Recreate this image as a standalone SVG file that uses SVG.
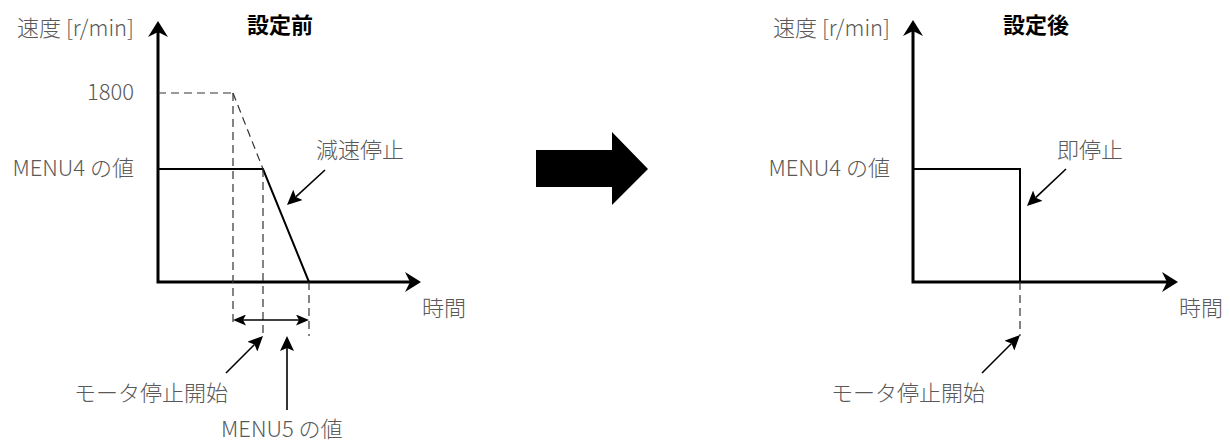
<svg xmlns="http://www.w3.org/2000/svg" width="1230" height="441" viewBox="0 0 1230 441">
<style>
  .t { font-family: "Noto Sans CJK JP", "Noto Sans", sans-serif; font-size: 22px; font-weight: 300; fill: #595959; }
  .title { font-family: "Noto Sans CJK JP", "Noto Sans", sans-serif; font-size: 22px; font-weight: bold; fill: #000; }
  .axis { fill: none; stroke: #000; stroke-width: 3; stroke-linejoin: miter; marker-start: url(#ah); marker-end: url(#ah); }
  .speed { fill: none; stroke: #000; stroke-width: 2; stroke-linejoin: miter; }
  .dash { fill: none; stroke: #333; stroke-width: 1.2; stroke-dasharray: 8 5; }
  .ptr { fill: none; stroke: #000; stroke-width: 1.6; marker-end: url(#sh); }
  .dbl { fill: none; stroke: #000; stroke-width: 1.6; marker-start: url(#dh); marker-end: url(#dh); }
</style>
<defs>
  <marker id="ah" viewBox="0 0 16 20" markerWidth="16" markerHeight="20" refX="5" refY="10" markerUnits="userSpaceOnUse" orient="auto-start-reverse">
    <path d="M0,0 L16,10 L0,20 L5,10 z" fill="#000"/>
  </marker>
  <marker id="sh" viewBox="0 0 15 14" markerWidth="15" markerHeight="14" refX="3" refY="7" markerUnits="userSpaceOnUse" orient="auto">
    <path d="M0,0 L15,7 L0,14 L3,7 z" fill="#000"/>
  </marker>
  <marker id="dh" viewBox="0 0 13 11" markerWidth="13" markerHeight="11" refX="3" refY="5.5" markerUnits="userSpaceOnUse" orient="auto-start-reverse">
    <path d="M0,0 L13,5.5 L0,11 L3,5.5 z" fill="#000"/>
  </marker>
</defs>

<g id="connectors">
  <!-- left chart -->
  <path class="axis" d="M158,32 L158,282 L410,282"/>
  <polyline class="speed" points="158,169 263,169 309,282"/>
  <line class="dash" x1="158" y1="93" x2="233" y2="93"/>
  <line class="dash" x1="233" y1="93" x2="263" y2="169"/>
  <line class="dash" x1="233" y1="93" x2="233" y2="327"/>
  <line class="dash" x1="263" y1="169" x2="263" y2="336"/>
  <line class="dash" x1="309" y1="282" x2="309" y2="336"/>
  <line class="dbl" x1="243" y1="320" x2="299" y2="320"/>
  <line class="ptr" x1="226" y1="373" x2="254.5" y2="344.5"/>
  <line class="ptr" x1="287" y1="410" x2="287" y2="348"/>
  <line class="ptr" x1="325" y1="170" x2="295.8" y2="196.9"/>
  <!-- right chart -->
  <path class="axis" d="M913,31 L913,282 L1167,282"/>
  <polyline class="speed" points="913,169 1020,169 1020,282"/>
  <line class="dash" x1="1020" y1="282" x2="1020" y2="336"/>
  <line class="ptr" x1="982" y1="373" x2="1011.5" y2="343.5"/>
  <line class="ptr" x1="1066" y1="169" x2="1035.7" y2="197.7"/>
</g>

<g id="big-arrow">
  <polygon points="536,150 612,150 612,132 648,169 612,205 612,187 536,187" fill="#000"/>
</g>

<g id="left-labels">
  <text class="t" x="134" y="36" text-anchor="end">速度 [r/min]</text>
  <text class="title" x="280" y="33" text-anchor="middle">設定前</text>
  <text class="t" x="134" y="100" text-anchor="end">1800</text>
  <text class="t" x="134" y="176" text-anchor="end">MENU4 の値</text>
  <text class="t" x="316" y="158">減速停止</text>
  <text class="t" x="422" y="316">時間</text>
  <text class="t" x="74" y="401">モータ停止開始</text>
  <text class="t" x="221" y="437">MENU5 の値</text>
</g>

<g id="right-labels">
  <text class="t" x="890" y="36" text-anchor="end">速度 [r/min]</text>
  <text class="title" x="1036" y="33" text-anchor="middle">設定後</text>
  <text class="t" x="890" y="176" text-anchor="end">MENU4 の値</text>
  <text class="t" x="1057" y="158">即停止</text>
  <text class="t" x="1179" y="316">時間</text>
  <text class="t" x="831" y="401">モータ停止開始</text>
</g>
</svg>
